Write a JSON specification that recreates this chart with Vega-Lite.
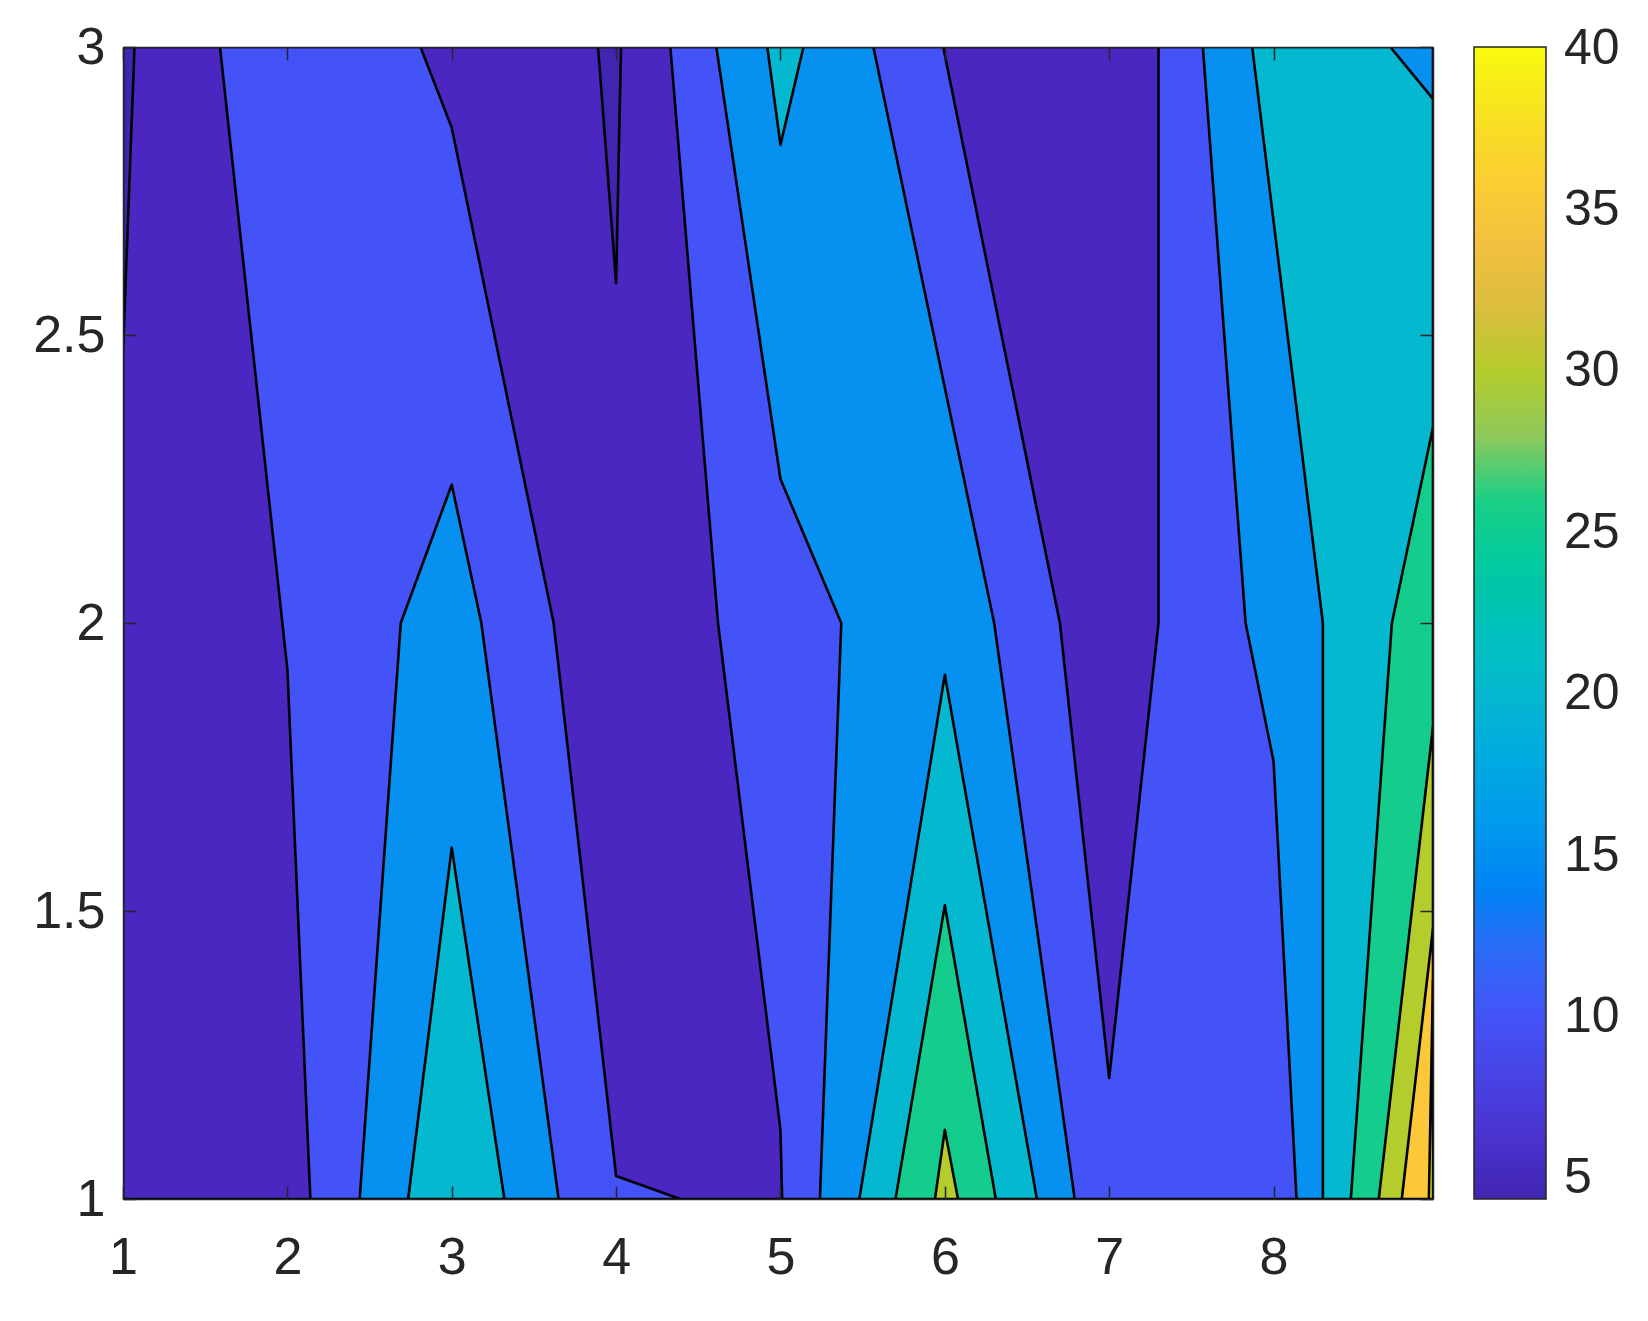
{
  "$schema": "https://vega.github.io/schema/vega-lite/v6.json",
  "width": 1310,
  "height": 1152,
  "autosize": {"type": "none"},
  "padding": {"left": 123, "top": 47, "right": 215, "bottom": 122},
  "background": "white",
  "config": {"view": {"stroke": null}, "font": "Liberation Sans"},
  "datasets": {
    "contours": [
      {"poly": "BG", "level": 10, "i": 0, "x": 1, "y": 1},
      {"poly": "BG", "level": 10, "i": 1, "x": 8.97, "y": 1},
      {"poly": "BG", "level": 10, "i": 2, "x": 8.97, "y": 3},
      {"poly": "BG", "level": 10, "i": 3, "x": 1, "y": 3},
      {"poly": "BG", "level": 10, "i": 4, "x": 1, "y": 1},

      {"poly": "A1", "level": 5, "i": 0, "x": 1, "y": 1},
      {"poly": "A1", "level": 5, "i": 1, "x": 2.14, "y": 1},
      {"poly": "A1", "level": 5, "i": 2, "x": 2.0, "y": 1.92},
      {"poly": "A1", "level": 5, "i": 3, "x": 1.59, "y": 3},
      {"poly": "A1", "level": 5, "i": 4, "x": 1, "y": 3},
      {"poly": "A1", "level": 5, "i": 5, "x": 1, "y": 1},

      {"poly": "A2", "level": 5, "i": 0, "x": 2.81, "y": 3},
      {"poly": "A2", "level": 5, "i": 1, "x": 3.0, "y": 2.86},
      {"poly": "A2", "level": 5, "i": 2, "x": 3.62, "y": 2},
      {"poly": "A2", "level": 5, "i": 3, "x": 4.0, "y": 1.04},
      {"poly": "A2", "level": 5, "i": 4, "x": 4.39, "y": 1},
      {"poly": "A2", "level": 5, "i": 5, "x": 5.01, "y": 1},
      {"poly": "A2", "level": 5, "i": 6, "x": 5.0, "y": 1.12},
      {"poly": "A2", "level": 5, "i": 7, "x": 4.62, "y": 2},
      {"poly": "A2", "level": 5, "i": 8, "x": 4.33, "y": 3},
      {"poly": "A2", "level": 5, "i": 9, "x": 2.81, "y": 3},

      {"poly": "A3", "level": 5, "i": 0, "x": 5.99, "y": 3},
      {"poly": "A3", "level": 5, "i": 1, "x": 6.7, "y": 2},
      {"poly": "A3", "level": 5, "i": 2, "x": 7.0, "y": 1.21},
      {"poly": "A3", "level": 5, "i": 3, "x": 7.3, "y": 2},
      {"poly": "A3", "level": 5, "i": 4, "x": 7.3, "y": 3},
      {"poly": "A3", "level": 5, "i": 5, "x": 5.99, "y": 3},

      {"poly": "L1", "level": 4.36, "i": 0, "x": 1, "y": 3},
      {"poly": "L1", "level": 4.36, "i": 1, "x": 1.07, "y": 3},
      {"poly": "L1", "level": 4.36, "i": 2, "x": 1, "y": 2.47},
      {"poly": "L1", "level": 4.36, "i": 3, "x": 1, "y": 3},

      {"poly": "L2", "level": 4.36, "i": 0, "x": 3.89, "y": 3},
      {"poly": "L2", "level": 4.36, "i": 1, "x": 4.0, "y": 2.59},
      {"poly": "L2", "level": 4.36, "i": 2, "x": 4.03, "y": 3},
      {"poly": "L2", "level": 4.36, "i": 3, "x": 3.89, "y": 3},

      {"poly": "C1", "level": 15, "i": 0, "x": 2.44, "y": 1},
      {"poly": "C1", "level": 15, "i": 1, "x": 2.69, "y": 2},
      {"poly": "C1", "level": 15, "i": 2, "x": 3.0, "y": 2.24},
      {"poly": "C1", "level": 15, "i": 3, "x": 3.18, "y": 2},
      {"poly": "C1", "level": 15, "i": 4, "x": 3.65, "y": 1},
      {"poly": "C1", "level": 15, "i": 5, "x": 2.44, "y": 1},

      {"poly": "C2", "level": 15, "i": 0, "x": 4.61, "y": 3},
      {"poly": "C2", "level": 15, "i": 1, "x": 5.0, "y": 2.25},
      {"poly": "C2", "level": 15, "i": 2, "x": 5.37, "y": 2},
      {"poly": "C2", "level": 15, "i": 3, "x": 5.24, "y": 1},
      {"poly": "C2", "level": 15, "i": 4, "x": 6.79, "y": 1},
      {"poly": "C2", "level": 15, "i": 5, "x": 6.3, "y": 2},
      {"poly": "C2", "level": 15, "i": 6, "x": 5.565, "y": 3},
      {"poly": "C2", "level": 15, "i": 7, "x": 4.61, "y": 3},

      {"poly": "C3", "level": 15, "i": 0, "x": 7.57, "y": 3},
      {"poly": "C3", "level": 15, "i": 1, "x": 7.83, "y": 2},
      {"poly": "C3", "level": 15, "i": 2, "x": 8.0, "y": 1.76},
      {"poly": "C3", "level": 15, "i": 3, "x": 8.14, "y": 1},
      {"poly": "C3", "level": 15, "i": 4, "x": 8.97, "y": 1},
      {"poly": "C3", "level": 15, "i": 5, "x": 8.97, "y": 3},
      {"poly": "C3", "level": 15, "i": 6, "x": 7.57, "y": 3},

      {"poly": "D1", "level": 20, "i": 0, "x": 2.735, "y": 1},
      {"poly": "D1", "level": 20, "i": 1, "x": 3.0, "y": 1.61},
      {"poly": "D1", "level": 20, "i": 2, "x": 3.32, "y": 1},
      {"poly": "D1", "level": 20, "i": 3, "x": 2.735, "y": 1},

      {"poly": "D2", "level": 20, "i": 0, "x": 4.92, "y": 3},
      {"poly": "D2", "level": 20, "i": 1, "x": 5.0, "y": 2.83},
      {"poly": "D2", "level": 20, "i": 2, "x": 5.14, "y": 3},
      {"poly": "D2", "level": 20, "i": 3, "x": 4.92, "y": 3},

      {"poly": "D3", "level": 20, "i": 0, "x": 5.48, "y": 1},
      {"poly": "D3", "level": 20, "i": 1, "x": 6.0, "y": 1.91},
      {"poly": "D3", "level": 20, "i": 2, "x": 6.56, "y": 1},
      {"poly": "D3", "level": 20, "i": 3, "x": 5.48, "y": 1},

      {"poly": "D4", "level": 20, "i": 0, "x": 7.87, "y": 3},
      {"poly": "D4", "level": 20, "i": 1, "x": 8.3, "y": 2},
      {"poly": "D4", "level": 20, "i": 2, "x": 8.3, "y": 1},
      {"poly": "D4", "level": 20, "i": 3, "x": 8.97, "y": 1},
      {"poly": "D4", "level": 20, "i": 4, "x": 8.97, "y": 2.91},
      {"poly": "D4", "level": 20, "i": 5, "x": 8.71, "y": 3},
      {"poly": "D4", "level": 20, "i": 6, "x": 7.87, "y": 3},

      {"poly": "E1", "level": 25, "i": 0, "x": 5.7, "y": 1},
      {"poly": "E1", "level": 25, "i": 1, "x": 6.0, "y": 1.51},
      {"poly": "E1", "level": 25, "i": 2, "x": 6.31, "y": 1},
      {"poly": "E1", "level": 25, "i": 3, "x": 5.7, "y": 1},

      {"poly": "E2", "level": 25, "i": 0, "x": 8.97, "y": 2.34},
      {"poly": "E2", "level": 25, "i": 1, "x": 8.72, "y": 2},
      {"poly": "E2", "level": 25, "i": 2, "x": 8.47, "y": 1},
      {"poly": "E2", "level": 25, "i": 3, "x": 8.97, "y": 1},
      {"poly": "E2", "level": 25, "i": 4, "x": 8.97, "y": 2.34},

      {"poly": "F1", "level": 30, "i": 0, "x": 5.94, "y": 1},
      {"poly": "F1", "level": 30, "i": 1, "x": 6.0, "y": 1.12},
      {"poly": "F1", "level": 30, "i": 2, "x": 6.08, "y": 1},
      {"poly": "F1", "level": 30, "i": 3, "x": 5.94, "y": 1},

      {"poly": "F2", "level": 30, "i": 0, "x": 8.97, "y": 1.82},
      {"poly": "F2", "level": 30, "i": 1, "x": 8.64, "y": 1},
      {"poly": "F2", "level": 30, "i": 2, "x": 8.97, "y": 1},
      {"poly": "F2", "level": 30, "i": 3, "x": 8.97, "y": 1.82},

      {"poly": "G1", "level": 35, "i": 0, "x": 8.97, "y": 1.47},
      {"poly": "G1", "level": 35, "i": 1, "x": 8.78, "y": 1},
      {"poly": "G1", "level": 35, "i": 2, "x": 8.97, "y": 1},
      {"poly": "G1", "level": 35, "i": 3, "x": 8.97, "y": 1.47},

      {"poly": "H1", "level": 40, "i": 0, "x": 8.97, "y": 1.38},
      {"poly": "H1", "level": 40, "i": 1, "x": 8.945, "y": 1},
      {"poly": "H1", "level": 40, "i": 2, "x": 8.97, "y": 1},
      {"poly": "H1", "level": 40, "i": 3, "x": 8.97, "y": 1.38}
    ]
  },
  "data": {"name": "contours"},
  "encoding": {
    "order": {"field": "i", "type": "quantitative"},
    "detail": {"field": "poly", "type": "nominal"},
    "fill": {
      "field": "level",
      "type": "quantitative",
      "scale": {
        "domain": [4.36, 5, 10, 12.5, 15, 20, 25, 27.4, 28, 30, 32.5, 35, 37.5, 40.05],
        "range": ["#4025b0", "#4a27c0", "#4353f8", "#2a70f6", "#0690f0", "#04b8cf", "#14cd8c", "#25d27c", "#8ec95a", "#b4cc2c", "#e4b945", "#fdc73a", "#f7dc24", "#f9fb0e"]
      },
      "legend": {
        "orient": "right",
        "offset": 40,
        "direction": "vertical",
        "gradientLength": 1152,
        "gradientThickness": 72,
        "gradientStrokeColor": "#262626",
        "gradientStrokeWidth": 1.5,
        "values": [5, 10, 15, 20, 25, 30, 35, 40],
        "format": "d",
        "labelFontSize": 50,
        "labelColor": "#262626",
        "labelBaseline": "middle",
        "labelOffset": 18,
        "labelOverlap": false,
        "title": null,
        "padding": 0
      }
    }
  },
  "layer": [
    {
      "transform": [{"filter": "datum.level == 10"}],
      "mark": {"type": "line", "stroke": "black", "strokeWidth": 2.6, "strokeJoin": "round", "clip": true},
      "encoding": {
        "x": {"field": "x", "type": "quantitative", "scale": {"domain": [1, 8.97], "nice": false, "zero": false},
          "axis": {"orient": "bottom", "values": [1, 2, 3, 4, 5, 6, 7, 8], "format": "d", "title": null, "grid": false,
            "labelFontSize": 52, "labelColor": "#262626", "labelFlush": false, "labelOverlap": false, "labelPadding": 46,
            "tickSize": -13, "tickColor": "#262626", "tickWidth": 1.5, "domainColor": "#262626", "domainWidth": 1.5, "zindex": 1}},
        "y": {"field": "y", "type": "quantitative", "scale": {"domain": [1, 3], "nice": false, "zero": false},
          "axis": {"orient": "left", "values": [1, 1.5, 2, 2.5, 3], "format": "~g", "title": null, "grid": false,
            "labelFontSize": 52, "labelColor": "#262626", "labelFlush": false, "labelOverlap": false, "labelPadding": 31,
            "tickSize": -13, "tickColor": "#262626", "tickWidth": 1.5, "domainColor": "#262626", "domainWidth": 1.5, "zindex": 1}}
      }
    },
    {
      "transform": [{"filter": "datum.level == 5"}],
      "mark": {"type": "line", "stroke": "black", "strokeWidth": 2.6, "strokeJoin": "round", "clip": true},
      "encoding": {
        "x": {"field": "x", "type": "quantitative", "scale": {"domain": [1, 8.97], "nice": false, "zero": false}, "axis": null},
        "y": {"field": "y", "type": "quantitative", "scale": {"domain": [1, 3], "nice": false, "zero": false}, "axis": null}
      }
    },
    {
      "transform": [{"filter": "datum.level < 5"}],
      "mark": {"type": "line", "stroke": "black", "strokeWidth": 2.6, "strokeJoin": "round", "clip": true},
      "encoding": {
        "x": {"field": "x", "type": "quantitative", "scale": {"domain": [1, 8.97], "nice": false, "zero": false}, "axis": null},
        "y": {"field": "y", "type": "quantitative", "scale": {"domain": [1, 3], "nice": false, "zero": false}, "axis": null}
      }
    },
    {
      "transform": [{"filter": "datum.level == 15"}],
      "mark": {"type": "line", "stroke": "black", "strokeWidth": 2.6, "strokeJoin": "round", "clip": true},
      "encoding": {
        "x": {"field": "x", "type": "quantitative", "scale": {"domain": [1, 8.97], "nice": false, "zero": false}, "axis": null},
        "y": {"field": "y", "type": "quantitative", "scale": {"domain": [1, 3], "nice": false, "zero": false}, "axis": null}
      }
    },
    {
      "transform": [{"filter": "datum.level == 20"}],
      "mark": {"type": "line", "stroke": "black", "strokeWidth": 2.6, "strokeJoin": "round", "clip": true},
      "encoding": {
        "x": {"field": "x", "type": "quantitative", "scale": {"domain": [1, 8.97], "nice": false, "zero": false}, "axis": null},
        "y": {"field": "y", "type": "quantitative", "scale": {"domain": [1, 3], "nice": false, "zero": false}, "axis": null}
      }
    },
    {
      "transform": [{"filter": "datum.level == 25"}],
      "mark": {"type": "line", "stroke": "black", "strokeWidth": 2.6, "strokeJoin": "round", "clip": true},
      "encoding": {
        "x": {"field": "x", "type": "quantitative", "scale": {"domain": [1, 8.97], "nice": false, "zero": false}, "axis": null},
        "y": {"field": "y", "type": "quantitative", "scale": {"domain": [1, 3], "nice": false, "zero": false}, "axis": null}
      }
    },
    {
      "transform": [{"filter": "datum.level == 30"}],
      "mark": {"type": "line", "stroke": "black", "strokeWidth": 2.6, "strokeJoin": "round", "clip": true},
      "encoding": {
        "x": {"field": "x", "type": "quantitative", "scale": {"domain": [1, 8.97], "nice": false, "zero": false}, "axis": null},
        "y": {"field": "y", "type": "quantitative", "scale": {"domain": [1, 3], "nice": false, "zero": false}, "axis": null}
      }
    },
    {
      "transform": [{"filter": "datum.level == 35"}],
      "mark": {"type": "line", "stroke": "black", "strokeWidth": 2.6, "strokeJoin": "round", "clip": true},
      "encoding": {
        "x": {"field": "x", "type": "quantitative", "scale": {"domain": [1, 8.97], "nice": false, "zero": false}, "axis": null},
        "y": {"field": "y", "type": "quantitative", "scale": {"domain": [1, 3], "nice": false, "zero": false}, "axis": null}
      }
    },
    {
      "transform": [{"filter": "datum.level == 40"}],
      "mark": {"type": "line", "stroke": "black", "strokeWidth": 2.6, "strokeJoin": "round", "clip": true},
      "encoding": {
        "x": {"field": "x", "type": "quantitative", "scale": {"domain": [1, 8.97], "nice": false, "zero": false}, "axis": null},
        "y": {"field": "y", "type": "quantitative", "scale": {"domain": [1, 3], "nice": false, "zero": false}, "axis": null}
      }
    },
    {
      "transform": [{"filter": "datum.level == 10"}],
      "mark": {"type": "line", "strokeOpacity": 0, "fillOpacity": 0, "clip": true},
      "encoding": {
        "x": {"field": "x", "type": "quantitative", "scale": {"domain": [1, 8.97], "nice": false, "zero": false},
          "axis": {"orient": "top", "values": [1, 2, 3, 4, 5, 6, 7, 8], "labels": false, "title": null, "grid": false,
            "tickSize": -13, "tickColor": "#262626", "tickWidth": 1.5, "domainColor": "#262626", "domainWidth": 1.5, "zindex": 1}},
        "y": {"field": "y", "type": "quantitative", "scale": {"domain": [1, 3], "nice": false, "zero": false},
          "axis": {"orient": "right", "values": [1, 1.5, 2, 2.5, 3], "labels": false, "title": null, "grid": false,
            "tickSize": -13, "tickColor": "#262626", "tickWidth": 1.5, "domainColor": "#262626", "domainWidth": 1.5, "zindex": 1}}
      }
    }
  ],
  "resolve": {"axis": {"x": "independent", "y": "independent"}}
}
